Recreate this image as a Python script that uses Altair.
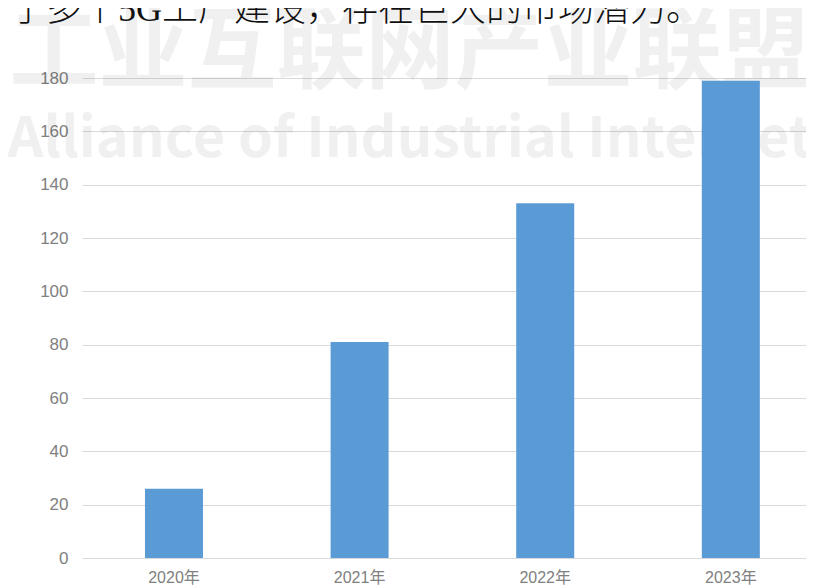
import altair as alt
import pandas as pd

years = ["2020年", "2021年", "2022年", "2023年"]
values = [26, 81, 133, 179]
y_ticks = [0, 20, 40, 60, 80, 100, 120, 140, 160, 180]
caption = "于多个5G工厂建设，存在巨大的市场潜力。"
wm_cn = "工业互联网产业联盟"
wm_en = "Alliance of Industrial Internet"

df = pd.DataFrame({"year": years, "value": values})

label_font = "Liberation Sans, Noto Sans CJK SC"

bars = alt.Chart(df).mark_bar(color="#5b9bd5").encode(
    x=alt.X(
        "year:N",
        sort=years,
        scale=alt.Scale(paddingInner=0.6875, paddingOuter=0.294, align=0.577),
        axis=alt.Axis(
            title=None, labelAngle=0, domain=False, ticks=False, grid=False,
            labelPadding=11, labelFontSize=16, labelColor="#808080", labelFont=label_font,
        ),
    ),
    y=alt.Y(
        "value:Q",
        scale=alt.Scale(domain=[0, 180], nice=False),
        axis=alt.Axis(
            title=None, values=y_ticks, domain=False, ticks=False, grid=True,
            gridColor="#d9d9d9", gridWidth=1.2, labelPadding=14, labelFontSize=17,
            labelColor="#808080", labelFont=label_font,
        ),
    ),
)

wm1 = alt.Chart(pd.DataFrame({"t": [wm_cn]})).mark_text(
    font="Noto Sans CJK SC", fontWeight="bold", fontSize=89, color="#000000",
    opacity=0.055, align="center", baseline="middle",
).encode(text="t:N", x=alt.value(328), y=alt.value(-24))

wm2 = alt.Chart(pd.DataFrame({"t": [wm_en]})).mark_text(
    font="Noto Sans CJK SC", fontWeight="bold", fontSize=56, color="#000000",
    opacity=0.055, align="center", baseline="alphabetic",
).encode(text="t:N", x=alt.value(328), y=alt.value(79))

cap = alt.Chart(pd.DataFrame({"t": [caption]})).mark_text(
    font="Liberation Serif, Noto Sans CJK SC", fontSize=36, fontWeight=300,
    color="#111111", align="left", baseline="alphabetic",
).encode(text="t:N", x=alt.value(-72), y=alt.value(-57))

chart = alt.layer(wm1, wm2, bars, cap).properties(
    width=724,
    height=480,
    autosize=alt.AutoSizeParams(type="none"),
    padding={"left": 74, "top": 70, "right": 0, "bottom": 40},
).configure_view(stroke=None)

chart.save("out.html", embed_options={"renderer": "svg", "actions": False})
